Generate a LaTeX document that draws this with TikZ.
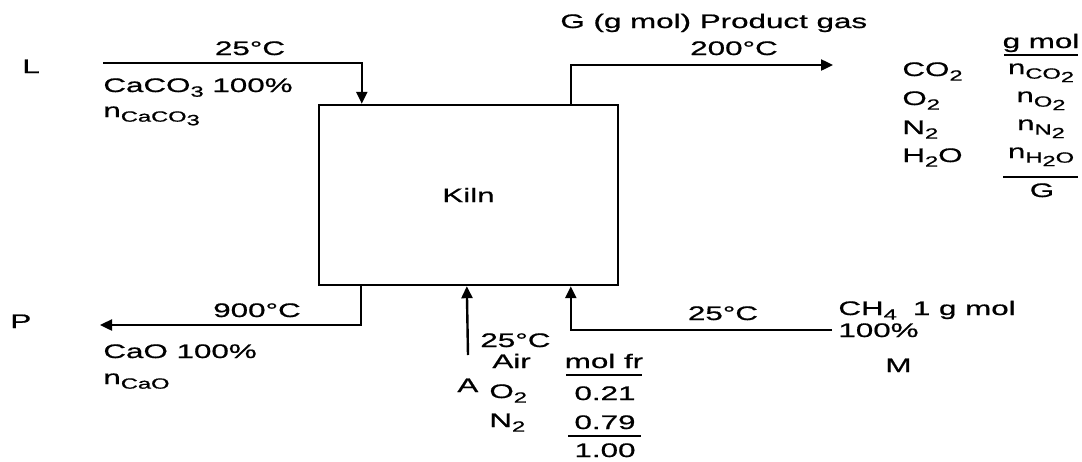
\documentclass[tikz,border=0pt]{standalone}
\usepackage{fontspec}
\setmainfont{Liberation Sans}[FakeStretch=1.6,FakeBold=0.8]
\usetikzlibrary{arrows.meta,calc}
\newcommand{\chsub}[1]{\raisebox{-0.45ex}{\fontsize{7.4}{8}\selectfont #1}}
\tikzset{
  lbl/.style={font=\fontsize{9.8}{11}\selectfont, inner sep=0pt, anchor=base west},
  lblc/.style={lbl, anchor=base},
  flow/.style={line width=1.2pt},
  arr/.style={flow, -{Triangle[length=6pt,width=5.5pt]}},
  rule/.style={line width=1pt},
  kilnbox/.style={draw, line width=1.2pt, minimum width=149.5pt, minimum height=90pt,
    inner sep=0pt, font=\fontsize{9.8}{11}\selectfont}
}
\begin{document}
\begin{tikzpicture}[x=0.5pt,y=-0.5pt]
\useasboundingbox (0,0) rectangle (1082,461);
% kiln
\node[kilnbox] (kiln) at (468.5,195) {Kiln};
% ports on the kiln
\coordinate (pL) at ($(kiln.north west)+(44,0)$);
\coordinate (pG) at ($(kiln.north west)+(253,0)$);
\coordinate (pP) at ($(kiln.south west)+(43,0)$);
\coordinate (pA) at ($(kiln.south west)+(149,0)$);
\coordinate (pM) at ($(kiln.south west)+(253,0)$);
% free ends
\coordinate (Lin) at (103,63);
\coordinate (Gout) at (833,65);
\coordinate (Pout) at (100,325);
\coordinate (Ain) at (468,355);
\coordinate (Min) at (832,330);
% streams
\draw[arr] (Lin) -| (pL);
\draw[arr] (pG) |- (Gout);
\draw[arr] (pP) |- (Pout);
\draw[arr] (Ain) -- (pA);
\draw[arr] (Min) -| (pM);
% feed L
\node[lbl] (L) at (22,73) {L};
\node[lblc] (tL) at (250,55) {25°C};
\node[lbl] (cL) at (103,92) {CaCO\chsub{3} 100\%};
\node[lbl] (nL) at (103,117) {n\chsub{CaCO\chsub{3}}};
% product gas
\node[lbl] (Gt) at (560,28) {G (g mol) Product gas};
\node[lblc] (tG) at (734,55) {200°C};
\node[lbl] (co2) at (902,76) {CO\chsub{2}};
\node[lbl] (o2) at (902,105) {O\chsub{2}};
\node[lbl] (n2) at (902,134) {N\chsub{2}};
\node[lbl] (h2o) at (902,162) {H\chsub{2}O};
\node[lblc] (gmol) at (1041,48) {g mol};
\draw[rule] (1004,55) -- (1078,55);
\node[lblc] (nco2) at (1041,74) {n\chsub{CO\chsub{2}}};
\node[lblc] (no2) at (1041,102) {n\chsub{O\chsub{2}}};
\node[lblc] (nn2) at (1041,130) {n\chsub{N\chsub{2}}};
\node[lblc] (nh2o) at (1041,158) {n\chsub{H\chsub{2}O}};
\draw[rule] (1003,177) -- (1078,177);
\node[lblc] (Gsum) at (1042,197) {G};
% product P
\node[lbl] (P) at (10,328) {P};
\node[lblc] (tP) at (257,317) {900°C};
\node[lbl] (cP) at (103,358) {CaO 100\%};
\node[lbl] (nP) at (103,384) {n\chsub{CaO}};
% air A
\node[lbl] (tA) at (480,347) {25°C};
\node[lbl] (air) at (492,368) {Air};
\node[lblc] (molfr) at (604,368) {mol fr};
\draw[rule] (566,375) -- (642,375);
\node[lbl] (A) at (457,392) {A};
\node[lbl] (ao2) at (489,398) {O\chsub{2}};
\node[lblc] (x1) at (605,400) {0.21};
\node[lbl] (an2) at (489,427) {N\chsub{2}};
\node[lblc] (x2) at (605,429) {0.79};
\draw[rule] (568,436) -- (641,436);
\node[lblc] (x3) at (605,457) {1.00};
% methane M
\node[lblc] (tM) at (723,320) {25°C};
\node[lbl] (ch4) at (838,315) {CH\chsub{4}\hspace{8pt}1 g mol};
\node[lbl] (pc) at (838,337) {100\%};
\node[lbl] (M) at (885,372) {M};
\end{tikzpicture}
\end{document}
